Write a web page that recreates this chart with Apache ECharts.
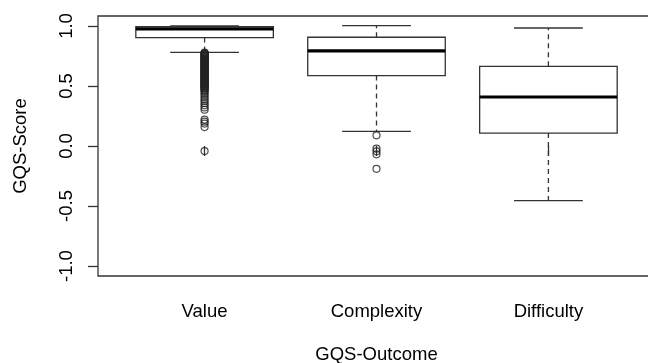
<!DOCTYPE html>
<html>
<head>
<meta charset="utf-8">
<script src="https://cdn.jsdelivr.net/npm/echarts@6/dist/echarts.min.js"></script>
<style>
html,body{margin:0;padding:0;background:#fff;}
#chart{width:648px;height:363px;}
</style>
</head>
<body>
<div id="chart"></div>
<script>
// ---- data ----
const categories = ['Value', 'Complexity', 'Difficulty'];
const whiskerLow  = [0.78, 0.1225, -0.455];
const q1          = [0.903, 0.587, 0.108];
const median      = [0.975, 0.792, 0.408];
const q3          = [0.995, 0.906, 0.664];
const whiskerHigh = [1.0, 1.003, 0.983];

const outliersValue = [
  0.778, 0.773, 0.768, 0.763, 0.758, 0.753, 0.748, 0.743, 0.738, 0.733,
  0.728, 0.723, 0.718, 0.713, 0.708, 0.703, 0.698, 0.693, 0.688, 0.683,
  0.678, 0.673, 0.668, 0.663, 0.658, 0.653, 0.648, 0.643, 0.638, 0.633,
  0.628, 0.623, 0.618, 0.613, 0.608, 0.603, 0.598, 0.593, 0.588, 0.583,
  0.578, 0.573, 0.568, 0.563, 0.558, 0.553, 0.548, 0.543, 0.538, 0.533,
  0.528, 0.523, 0.518, 0.513, 0.508, 0.503, 0.498, 0.493, 0.488, 0.483,
  0.478, 0.47, 0.462, 0.455, 0.44, 0.425, 0.408, 0.39, 0.375, 0.357,
  0.339, 0.321, 0.303, 0.22, 0.203, 0.187, 0.158, -0.042
];
const outliersComplexity = [0.089, -0.022, -0.044, -0.069, -0.19];
const outliersDifficulty = [];

const yTicks = [-1, -0.5, 0, 0.5, 1];
const xTicks = [1, 2, 3];

// ---- build series data ----
const boxData = categories.map((c, i) => [i + 1, whiskerLow[i], q1[i], median[i], q3[i], whiskerHigh[i]]);
const outlierData = [];
[outliersValue, outliersComplexity, outliersDifficulty].forEach((arr, i) => {
  arr.forEach(v => outlierData.push([i + 1, v]));
});

const LINE = '#333';
const FONT = 'Liberation Sans, Arial, Helvetica, sans-serif';
const FS = 18.5;

const chart = echarts.init(document.getElementById('chart'), null, {renderer: 'canvas'});

chart.setOption({
  animation: false,
  backgroundColor: '#fff',
  grid: {
    left: 98, right: -7, top: 16, bottom: 87,
    containLabel: false,
    outerBoundsMode: 'none',
    show: true, borderColor: LINE, borderWidth: 1.3, backgroundColor: 'transparent'
  },
  xAxis: {
    type: 'value',
    min: 0.38, max: 3.62,
    name: 'GQS-Outcome',
    nameLocation: 'middle',
    nameGap: 69,
    nameTextStyle: {fontFamily: FONT, fontSize: FS, color: '#000'},
    axisLine: {show: false},
    splitLine: {show: false},
    axisTick: {show: true, length: 10, customValues: xTicks, lineStyle: {color: LINE, width: 1.3}},
    axisLabel: {
      customValues: xTicks,
      margin: 26,
      fontFamily: FONT, fontSize: FS, color: '#000',
      formatter: v => categories[Math.round(v) - 1] || ''
    }
  },
  yAxis: {
    type: 'value',
    min: -1.083, max: 1.083,
    name: 'GQS-Score',
    nameLocation: 'middle',
    nameGap: 68,
    nameTextStyle: {fontFamily: FONT, fontSize: FS, color: '#000'},
    axisLine: {show: false},
    splitLine: {show: false},
    axisTick: {show: true, length: 10, customValues: yTicks, lineStyle: {color: LINE, width: 1.3}},
    axisLabel: {
      customValues: yTicks,
      rotate: 90,
      margin: 22,
      fontFamily: FONT, fontSize: FS, color: '#000',
      formatter: v => v.toFixed(1)
    }
  },
  series: [
    {
      type: 'custom',
      data: boxData,
      encode: {x: 0, y: [1, 2, 3, 4, 5]},
      renderItem: function (params, api) {
        const x = api.value(0);
        const pLo = api.coord([x, api.value(1)]);
        const pA = api.coord([x, api.value(2)]);
        const pM = api.coord([x, api.value(3)]);
        const pB = api.coord([x, api.value(4)]);
        const pHi = api.coord([x, api.value(5)]);
        const bw = api.size([0.8, 0])[0];
        const cw = api.size([0.4, 0])[0];
        const cx = pM[0];
        const dashed = {stroke: LINE, lineWidth: 1.3, lineDash: [5, 4], fill: null};
        const solid = {stroke: LINE, lineWidth: 1.3, fill: null};
        return {
          type: 'group',
          children: [
            {type: 'line', shape: {x1: cx, y1: pB[1], x2: cx, y2: pHi[1]}, style: dashed},
            {type: 'line', shape: {x1: cx, y1: pA[1], x2: cx, y2: pLo[1]}, style: dashed},
            {type: 'line', shape: {x1: cx - cw / 2, y1: pHi[1], x2: cx + cw / 2, y2: pHi[1]}, style: solid},
            {type: 'line', shape: {x1: cx - cw / 2, y1: pLo[1], x2: cx + cw / 2, y2: pLo[1]}, style: solid},
            {type: 'rect', shape: {x: cx - bw / 2, y: pB[1], width: bw, height: pA[1] - pB[1]},
              style: {stroke: LINE, lineWidth: 1.3, fill: '#fff'}},
            {type: 'line', shape: {x1: cx - bw / 2, y1: pM[1], x2: cx + bw / 2, y2: pM[1]},
              style: {stroke: '#000', lineWidth: 3.2}}
          ]
        };
      },
      z: 2
    },
    {
      type: 'scatter',
      data: outlierData,
      symbol: 'circle',
      symbolSize: 7,
      itemStyle: {color: 'rgba(0,0,0,0)', borderColor: '#222', borderWidth: 1.2},
      z: 3
    }
  ]
});
</script>
</body>
</html>
